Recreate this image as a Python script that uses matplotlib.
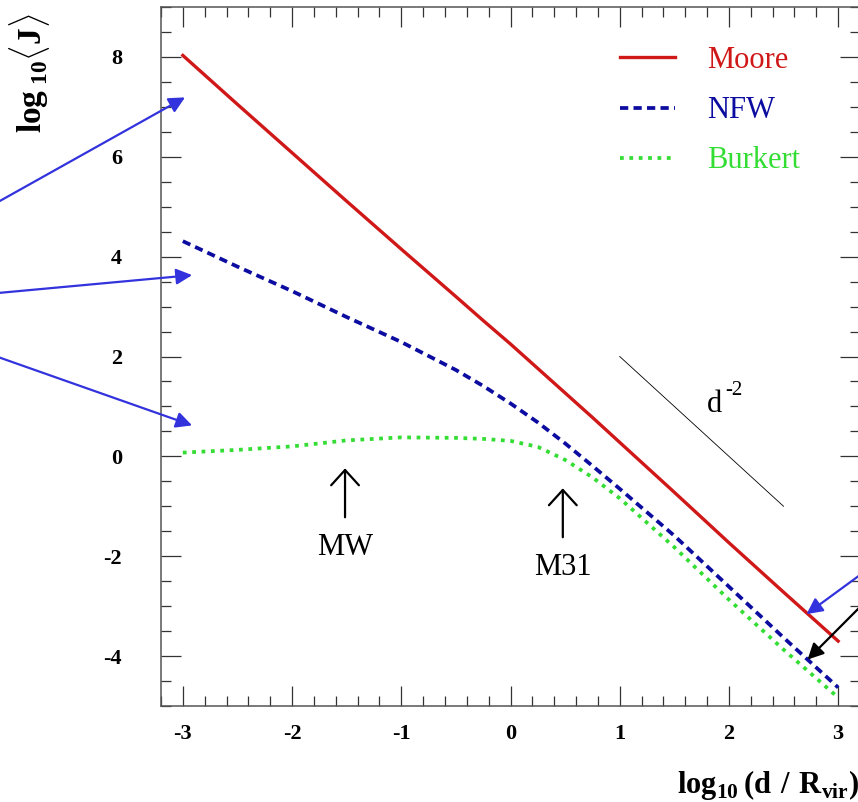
import numpy as np
import matplotlib
matplotlib.use('Agg')
import matplotlib.pyplot as plt
from matplotlib.ticker import MultipleLocator

plt.rcParams['font.family'] = ['Liberation Serif', 'DejaVu Serif']
plt.rcParams['mathtext.fontset'] = 'custom'
plt.rcParams['mathtext.rm'] = 'Liberation Serif'
plt.rcParams['mathtext.bf'] = 'Liberation Serif:bold'
plt.rcParams['axes.unicode_minus'] = False

# log10(d / Rvir) and log10<J> for the three halo profiles
logd = [-3, -2.5, -2, -1.5, -1, -0.5, -0.25, 0, 0.25, 0.5, 0.75, 1, 1.5, 2, 2.5, 3]
moore = [8.03, 7.05, 6.08, 5.11, 4.15, 3.20, 2.72, 2.25, 1.76, 1.27, 0.78, 0.28,
         -0.72, -1.73, -2.72, -3.70]
nfw = [4.31, 3.80, 3.31, 2.79, 2.29, 1.73, 1.41, 1.06, 0.68, 0.26, -0.19, -0.65,
       -1.59, -2.61, -3.63, -4.63]
burkert = [0.075, 0.13, 0.20, 0.32, 0.38, 0.37, 0.35, 0.31, 0.19, -0.07, -0.42, -0.84,
           -1.82, -2.87, -3.87, -4.83]

# d^-2 guide line
guide_x = [1.0, 2.5]
guide_y = [2.0, -1.0]

xticks = [-3, -2, -1, 0, 1, 2, 3]
yticks = [-4, -2, 0, 2, 4, 6, 8]

fig = plt.figure(figsize=(8.58, 8.02), dpi=100)
ax = fig.add_axes([161/858, 96/802, 699/858, 699/802])

ax.plot(logd, moore, color='#d01818', lw=2.4, label='Moore')
ax.plot(logd, nfw, color='#0c0ca0', lw=2.7, dashes=(2.2, 1.4), label='NFW')
ax.plot(logd, burkert, color='#33dd33', lw=2.7, dashes=(1.0, 1.5), label='Burkert')
ax.plot(guide_x, guide_y, color='black', lw=0.6)

ax.set_xlim(-3.2, 3.2)
ax.set_ylim(-5, 9)
ax.set_xticks(xticks, [str(t) for t in xticks], fontweight='bold', fontsize=16)
ax.set_yticks(yticks, [str(t) for t in yticks], fontweight='bold', fontsize=16)
ax.xaxis.set_minor_locator(MultipleLocator(0.2))
ax.yaxis.set_minor_locator(MultipleLocator(0.5))
ax.tick_params(which='both', direction='in', top=True, right=True,
               color='#333333', width=0.9)
ax.tick_params(which='major', length=14.4)
ax.tick_params(which='minor', length=7.2)
ax.tick_params(axis='x', pad=13)
ax.tick_params(axis='y', pad=28)
for s in ax.spines.values():
    s.set_color('#555555')
    s.set_linewidth(1.1)

ax.set_ylabel(r'$\mathbf{log}\,_{\mathbf{10}}\langle\mathbf{J}\rangle$', fontsize=24)
ax.yaxis.set_label_coords(-0.156, 0.905)
ax.set_xlabel(r'$\mathbf{log}_{\mathbf{10}}\,\mathbf{(d\ /\ R}_{\mathbf{vir}}\mathbf{)}$', fontsize=22)
ax.xaxis.label.set_ha('left')
ax.xaxis.set_label_coords(0.738, -0.088)

leg = ax.legend(loc='upper left', bbox_to_anchor=(0.657, 0.944), frameon=False,
                fontsize=22, handlelength=1.8, handletextpad=1.05,
                labelspacing=0.69, borderpad=0, borderaxespad=0)
for txt, ln in zip(leg.get_texts(), leg.get_lines()):
    txt.set_color(ln.get_color())

# galaxy markers
ax.annotate('', xy=(-1.515, -0.24), xytext=(-1.515, -1.22),
            arrowprops=dict(arrowstyle='->,head_length=0.55,head_width=0.5',
                            color='black', lw=1.6, mutation_scale=20,
                            shrinkA=0, shrinkB=0))
ax.text(-1.515, -1.83, 'MW', fontsize=22, ha='center', va='center')
ax.annotate('', xy=(0.479, -0.64), xytext=(0.479, -1.62),
            arrowprops=dict(arrowstyle='->,head_length=0.55,head_width=0.5',
                            color='black', lw=1.6, mutation_scale=20,
                            shrinkA=0, shrinkB=0))
ax.text(0.479, -2.23, 'M31', fontsize=22, ha='center', va='center')
ax.text(1.80, 0.88, 'd', fontsize=22, ha='left', va='baseline')
ax.text(1.97, 1.22, '-2', fontsize=15, ha='left', va='baseline')

# pointer arrows from outside the frame
blue = '#3333dd'
pointers = [((-2.98, 7.19), (-2, 600), blue),
            ((-2.915, 3.63), (-2, 509), blue),
            ((-2.915, 0.62), (-2, 445), blue),
            ((2.71, -3.16), (860, 227), blue),
            ((2.72, -4.07), (860, 195), 'black')]
for tip, tail, c in pointers:
    ax.annotate('', xy=tip, xycoords='data', xytext=tail, textcoords='figure pixels',
                arrowprops=dict(arrowstyle='-|>', color=c, lw=1.6, mutation_scale=24,
                                shrinkA=0, shrinkB=0),
                annotation_clip=False)

fig.savefig('out.png', dpi=100)
